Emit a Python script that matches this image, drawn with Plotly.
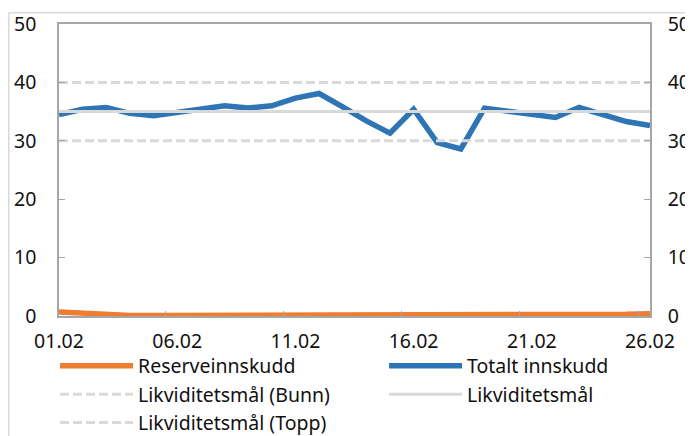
import plotly.graph_objects as go

dates = ["%02d.02" % d for d in range(1, 27)]
totalt = [34.5, 35.4, 35.7, 34.7, 34.3, 34.8, 35.4, 36.0, 35.6, 36.0, 37.3, 38.1, 35.8, 33.4,
          31.3, 35.4, 29.7, 28.6, 35.6, 35.0, 34.5, 34.0, 35.7, 34.5, 33.3, 32.6]
reserve = [0.7, 0.45, 0.15, 0.1, 0.1, 0.1, 0.15, 0.15, 0.1, 0.25, 0.2, 0.15, 0.1, 0.1,
           0.1, 0.1, 0.1, 0.1, 0.1, 0.1, 0.1, 0.1, 0.15, 0.2, 0.3, 0.4]
maal = [35] * 26
bunn = [30] * 26
topp = [40] * 26
yticks = [0, 10, 20, 30, 40, 50]

FONT = "Noto Sans"
FS = 19.5
GRID = "#d9d9d9"
AX = "#a6a6a6"

fig = go.Figure()
fig.add_trace(go.Scatter(x=dates, y=reserve, name="Reserveinnskudd", mode="lines",
                         line=dict(color="#ED7D31", width=5.5), legend="legend"))
fig.add_trace(go.Scatter(x=dates, y=totalt, name="Totalt innskudd", mode="lines",
                         line=dict(color="#2E75B6", width=5.5), legend="legend2"))
fig.add_trace(go.Scatter(x=dates, y=bunn, name="Likviditetsmål (Bunn)", mode="lines",
                         line=dict(color=GRID, width=3, dash="9px,4px"), legend="legend"))
fig.add_trace(go.Scatter(x=dates, y=maal, name="Likviditetsmål", mode="lines",
                         line=dict(color=GRID, width=3), legend="legend2"))
fig.add_trace(go.Scatter(x=dates, y=topp, name="Likviditetsmål (Topp)", mode="lines",
                         line=dict(color=GRID, width=3, dash="9px,4px"), legend="legend"))
fig.add_trace(go.Scatter(x=dates, y=maal, yaxis="y2", mode="lines", showlegend=False,
                         hoverinfo="skip", line=dict(width=0), opacity=0))

axis_font = dict(family=FONT, size=FS, color="#111111")
leg_common = dict(orientation="v", yanchor="top", y=-0.105, xanchor="left",
                  itemwidth=73, font=dict(family=FONT, size=FS, color="#111111"),
                  tracegroupgap=0, bgcolor="rgba(0,0,0,0)", borderwidth=0)
fig.update_layout(
    width=693, height=436,
    margin=dict(l=51, r=51, t=16, b=128, autoexpand=False),
    paper_bgcolor="white", plot_bgcolor="white",
    font=axis_font,
    showlegend=True,
    xaxis=dict(type="category", dtick=5, tickson="boundaries", ticks="inside", ticklen=5,
               tickcolor=AX, showline=True, linecolor=AX, linewidth=1.5, mirror=True,
               showgrid=False, zeroline=False, tickfont=axis_font, ticklabelstandoff=7,
               tickangle=0, automargin=False),
    yaxis=dict(range=[0, 50], tickvals=yticks, ticks="inside", ticklen=6, tickcolor=AX,
               showline=True, linecolor=AX, linewidth=1.5, showgrid=False, zeroline=False,
               tickfont=axis_font, ticklabelstandoff=17, automargin=False),
    yaxis2=dict(range=[0, 50], tickvals=yticks, overlaying="y", side="right", ticks="inside",
                ticklen=6, tickcolor=AX, showline=True, linecolor=AX, linewidth=1.5,
                showgrid=False, zeroline=False, tickfont=axis_font, ticklabelstandoff=12,
                automargin=False),
    legend=dict(x=-0.0067, **leg_common),
    legend2=dict(x=0.55, **leg_common),
    shapes=[
        dict(type="line", xref="paper", yref="paper", x0=-0.085, x1=1.2, y0=1.0385, y1=1.0385,
             line=dict(color=GRID, width=1.5)),
        dict(type="line", xref="paper", yref="paper", x0=-0.085, x1=-0.085, y0=1.0385, y1=-0.5,
             line=dict(color=GRID, width=1.5)),
    ],
)

fig.write_html("out.html")
